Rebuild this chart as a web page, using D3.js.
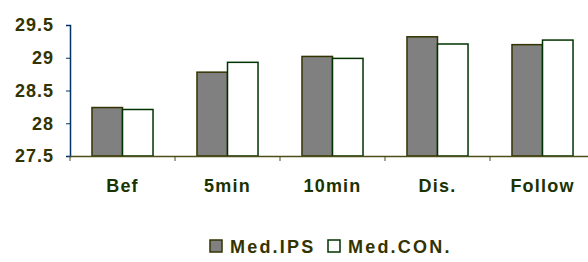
<!DOCTYPE html>
<html>
<head>
<script src="https://d3js.org/d3.v7.min.js"></script>
<style>
body{ margin:0; background:white; }
text{ font-family:"Liberation Sans", Arial, sans-serif; font-weight:bold; font-size:18px; }
</style>
</head>
<body>
<div id="chart"></div>
<script>
var categories = ['Bef', '5min', '10min', 'Dis.', 'Follow'];
var seriesNames = ['Med.IPS', 'Med.CON.'];
var ips = [28.24, 28.78, 29.02, 29.32, 29.20];
var con = [28.21, 28.93, 28.99, 29.21, 29.27];
var yTicks = [27.5, 28, 28.5, 29, 29.5];

var fills = ['#808080', '#ffffff'];
var strokes = ['#333300', '#003300'];

var svg = d3.select('#chart').append('svg')
  .attr('width', 588)
  .attr('height', 262);

var x = d3.scaleBand().domain(categories).range([70, 595]).paddingInner(0).paddingOuter(0);
var x1 = d3.scaleBand().domain(seriesNames).range([0, x.bandwidth()]).paddingInner(0).paddingOuter(0.72);
var y = d3.scaleLinear().domain([27.5, 29.5]).range([156, 25]);

var data = categories.map(function(c, i){
  return {cat: c, vals: [ips[i], con[i]]};
});

// bars
var groups = svg.selectAll('g.cat').data(data).enter().append('g')
  .attr('class', 'cat')
  .attr('transform', function(d){ return 'translate(' + x(d.cat) + ',0)'; });

groups.selectAll('rect').data(function(d){
  return d.vals.map(function(v, j){ return {s: seriesNames[j], v: v, j: j}; });
}).enter().append('rect')
  .attr('x', function(d){ return x1(d.s); })
  .attr('width', x1.bandwidth())
  .attr('y', function(d){ return y(d.v); })
  .attr('height', function(d){ return y(27.5) - y(d.v); })
  .attr('fill', function(d){ return fills[d.j]; })
  .attr('stroke', function(d){ return strokes[d.j]; })
  .attr('stroke-width', 1.5);

// y axis
var yAxis = svg.append('g').attr('transform', 'translate(70,0)')
  .call(d3.axisLeft(y).tickValues(yTicks).tickSize(4).tickFormat(d3.format('')));
yAxis.select('.domain').attr('stroke', '#003366').attr('stroke-width', 1.5);
yAxis.selectAll('.tick line').attr('stroke', '#003366');
yAxis.selectAll('.tick text')
  .attr('fill', '#333300')
  .attr('x', -16)
  .style('font-size', '18px')
  .style('letter-spacing', '1px');

// x axis
var xAxis = svg.append('g').attr('transform', 'translate(0,' + y(27.5) + ')')
  .call(d3.axisBottom(x).tickSize(0));
xAxis.select('.domain').attr('stroke', '#4d4d1a').attr('stroke-width', 1.5);
xAxis.selectAll('.tick text')
  .attr('fill', '#1a3300')
  .attr('y', 23)
  .style('font-size', '18px')
  .style('letter-spacing', '1.2px');
svg.append('g').selectAll('line').data(categories).enter().append('line')
  .attr('x1', function(d){ return x(d); })
  .attr('x2', function(d){ return x(d); })
  .attr('y1', y(27.5))
  .attr('y2', y(27.5) + 5)
  .attr('stroke', '#4d4d1a');

// legend
var legendX = [210, 328];
var legend = svg.selectAll('g.leg').data(seriesNames).enter().append('g')
  .attr('class', 'leg')
  .attr('transform', function(d, i){ return 'translate(' + legendX[i] + ',240)'; });
legend.append('rect')
  .attr('width', 12).attr('height', 12)
  .attr('fill', function(d, i){ return fills[i]; })
  .attr('stroke', function(d, i){ return strokes[i]; })
  .attr('stroke-width', 1.5);
legend.append('text')
  .attr('x', 20).attr('y', 13)
  .attr('fill', '#333300')
  .style('font-size', '18px')
  .style('letter-spacing', '2.2px')
  .text(function(d){ return d; });
</script>
</body>
</html>
